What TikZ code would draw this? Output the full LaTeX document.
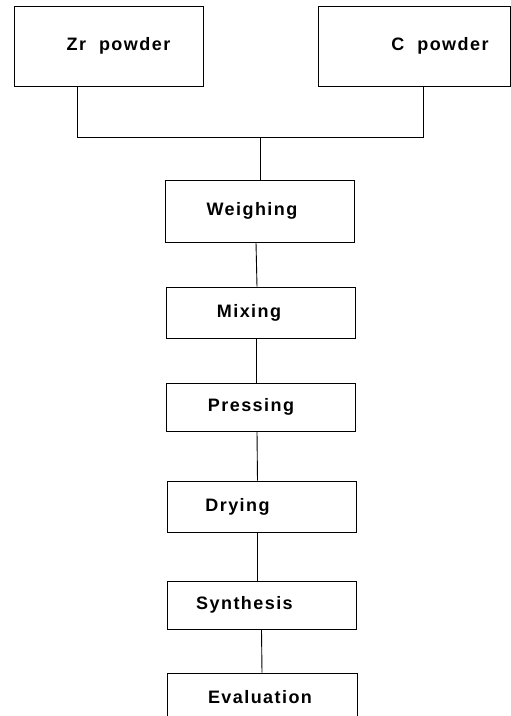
\documentclass[tikz,border=0pt]{standalone}
\usepackage{fontspec}
\setmainfont{Liberation Sans}[LetterSpace=8]
\newcommand{\lowtxt}[2][-3pt]{\raisebox{#1}{#2}}
\begin{document}
\begin{tikzpicture}[x=1pt,y=-1pt,
  box/.style={draw,line width=0.9pt,minimum width=189pt,inner sep=0pt,font=\bfseries\fontsize{18}{21}\selectfont},
  conn/.style={line width=0.9pt}]
\useasboundingbox (0,0) rectangle (511,716);
\clip (0,0) rectangle (511,716);
\node[box,minimum height=80pt] (zr) at (108.5,46) {\hspace*{20pt}\lowtxt[-5pt]{Zr\ \ powder}};
\node[box,minimum width=192pt,minimum height=80pt] (c) at (414,46) {\hspace*{52pt}\lowtxt[-5pt]{C\ \ powder}};
\node[box,minimum height=62pt] (weigh) at (260,211) {\lowtxt{Weighing}\hspace*{16pt}};
\node[box,minimum height=51pt] (mix) at (261,312.5) {\lowtxt{Mixing}\hspace*{24pt}};
\node[box,minimum height=48pt] (press) at (261,407) {\lowtxt{Pressing}\hspace*{20pt}};
\node[box,minimum height=51pt] (dry) at (261.5,506.5) {\lowtxt{Drying}\hspace*{48pt}};
\node[box,minimum height=48pt] (syn) at (261.5,605) {\lowtxt{Synthesis}\hspace*{34pt}};
\node[box,minimum width=190pt,minimum height=60pt,text depth=0pt] (eval) at (262,703) {\raisebox{12pt}{Evaluation}\hspace*{4pt}};
\coordinate (j) at (260,137);
\draw[conn] ([xshift=-31.5pt]zr.south) |- (j);
\draw[conn] ([xshift=9pt]c.south) |- (j);
\draw[conn] (j) -- (weigh.north);
\draw[conn] ([xshift=-4pt]weigh.south) -- ([xshift=-4pt]mix.north);
\draw[conn] ([xshift=-5pt]mix.south) -- ([xshift=-5pt]press.north);
\draw[conn] ([xshift=-4pt]press.south) -- ([xshift=-4pt]dry.north);
\draw[conn] ([xshift=-4.5pt]dry.south) -- ([xshift=-4.5pt]syn.north);
\draw[conn] (syn.south) -- (eval.north);
\end{tikzpicture}
\end{document}
